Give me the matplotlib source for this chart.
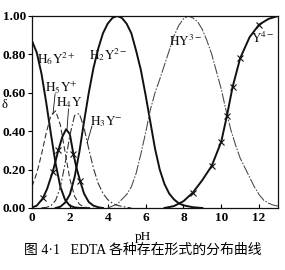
import matplotlib
matplotlib.use("Agg")
import matplotlib.pyplot as plt

plt.rcParams['mathtext.fontset'] = 'stix'
plt.rcParams['font.family'] = ['Liberation Serif', 'Noto Sans CJK SC', 'DejaVu Sans']

# ---------------- data ----------------
ph_acid = [0, 0.25, 0.5, 0.75, 1.0, 1.25, 1.5, 1.75, 2.0, 2.25, 2.5, 2.75, 3.0]
h6y = [0.87, 0.81, 0.70, 0.55, 0.385, 0.23, 0.11, 0.042, 0.012, 0.003, 0.0005, 0.0, 0.0]

ph_h5y = [0, 0.25, 0.5, 0.75, 1.0, 1.25, 1.5, 1.75, 2.0, 2.25, 2.5, 2.75, 3.0, 3.25]
h5y = [0.112, 0.181, 0.278, 0.390, 0.483, 0.506, 0.432, 0.290, 0.151, 0.061, 0.020, 0.005, 0.001, 0.0]

ph_h4y = [0, 0.25, 0.57, 0.8, 1.1, 1.39, 1.6, 1.8, 2.0, 2.19, 2.35, 2.54, 2.75, 3.0, 3.25, 3.5, 3.75]
h4y = [0.003, 0.012, 0.05, 0.10, 0.19, 0.30, 0.37, 0.41, 0.385, 0.28, 0.21, 0.142, 0.075, 0.031, 0.012, 0.004, 0.0]
h4y_marks = [2, 4, 5, 9, 11]

ph_h3y = [0.5, 0.75, 1.0, 1.25, 1.5, 1.75, 2.0, 2.25, 2.5, 2.75, 3.0, 3.25, 3.5, 3.75,
          4.0, 4.25, 4.5, 4.75, 5.0, 5.25]
h3y = [0.001, 0.003, 0.012, 0.040, 0.109, 0.231, 0.378, 0.482, 0.492, 0.418, 0.308, 0.206, 0.128, 0.076,
       0.044, 0.025, 0.014, 0.008, 0.004, 0.0]

ph_h2y = [1.25, 1.5, 1.75, 2.0, 2.25, 2.5, 2.75, 3.0, 3.25, 3.5, 3.75, 4.0, 4.25, 4.5, 4.75,
          5.0, 5.25, 5.5, 5.75, 6.0, 6.25, 6.5, 6.75, 7.0, 7.25, 7.5, 7.75, 8.0, 8.5, 9.0]
h2y = [0.0, 0.007, 0.028, 0.07, 0.16, 0.29, 0.45, 0.60, 0.73, 0.83, 0.91, 0.96, 0.99, 1.0, 0.99,
       0.96, 0.91, 0.82, 0.72, 0.59, 0.45, 0.31, 0.20, 0.125, 0.075, 0.045, 0.025, 0.014, 0.004, 0.0]

ph_hy = [4.0, 4.5, 5.0, 5.25, 5.5, 5.75, 6.0, 6.25, 6.5, 6.75, 7.0, 7.25, 7.5, 7.75, 8.0, 8.25,
         8.5, 8.75, 9.0, 9.25, 9.5, 9.75, 10.0, 10.25, 10.5, 10.75, 11.0, 11.25, 11.5, 11.75,
         12.0, 12.25, 12.5, 12.75, 13.0]
hy = [0.0, 0.02, 0.07, 0.11, 0.18, 0.28, 0.39, 0.51, 0.60, 0.67, 0.745, 0.82, 0.895, 0.95, 0.985, 1.0,
      0.99, 0.97, 0.93, 0.87, 0.80, 0.71, 0.62, 0.51, 0.41, 0.33, 0.26, 0.21, 0.16, 0.11,
      0.07, 0.04, 0.025, 0.015, 0.01]

ph_y = [7.0, 7.5, 8.0, 8.5, 9.0, 9.5, 10.0, 10.3, 10.6, 11.0, 11.5, 12.0, 12.5, 13.0]
y4 = [0.0, 0.01, 0.035, 0.08, 0.145, 0.22, 0.345, 0.48, 0.63, 0.78, 0.89, 0.955, 0.985, 1.0]
y4_marks = [3, 5, 6, 7, 8, 9, 11]

x_ticks = [0, 2, 4, 6, 8, 10, 12]
y_ticks = [0.0, 0.2, 0.4, 0.6, 0.8, 1.0]
y_ticklabels = ['0.00', '0.20', '0.40', '0.60', '0.80', '1.00']

# ---------------- figure ----------------
W, H = 285, 270
fig = plt.figure(figsize=(W / 100, H / 100), dpi=100)
ax = fig.add_axes([32 / W, 62 / H, 246 / W, 192 / H])
ax.set_xlim(0, 13)
ax.set_ylim(0, 1)

k = '#111111'
thick = 1.4
thin = 0.8
ax.plot(ph_acid, h6y, color=k, lw=thick)
ax.plot(ph_h5y, h5y, color='#333333', lw=thin, ls=(0, (5, 2.5)))
ax.plot(ph_h4y, h4y, color=k, lw=thick, marker='x', markevery=h4y_marks,
        markersize=4.5, markeredgewidth=0.8)
ax.plot(ph_h3y, h3y, color='#333333', lw=thin, ls=(0, (7, 2, 1.5, 2)))
ax.plot(ph_h2y, h2y, color=k, lw=thick)
ax.plot(ph_hy, hy, color='#444444', lw=0.75, ls=(0, (10, 1.5, 1.5, 1.5)))
ax.plot(ph_y, y4, color=k, lw=thick, marker='x', markevery=y4_marks,
        markersize=4.5, markeredgewidth=0.8)

ax.set_xticks(x_ticks)
ax.set_xticklabels([str(t) for t in x_ticks])
ax.set_yticks(y_ticks)
ax.set_yticklabels(y_ticklabels)
ax.tick_params(axis='x', direction='in', length=3, width=0.8, pad=3, labelsize=9.5)
ax.tick_params(axis='y', direction='out', length=3, width=0.8, pad=1.2, labelsize=9.5)
for lab in ax.get_xticklabels() + ax.get_yticklabels():
    lab.set_fontweight('bold')
for s in ax.spines.values():
    s.set_linewidth(0.9)
    s.set_color(k)

lab_kw = dict(fontsize=9.5, ha='center', va='center', color=k)
ax.text(1.3, 0.78, r'$\mathrm{H_6Y^{2+}}$', **lab_kw)
ax.text(4.05, 0.80, r'$\mathrm{H_2Y^{2-}}$', **lab_kw)
ax.text(8.14, 0.87, r'$\mathrm{HY^{3-}}$', **lab_kw)
ax.text(12.2, 0.885, r'$\mathrm{Y^{4-}}$', **lab_kw)
ax.text(1.55, 0.625, r'$\mathrm{H_5Y^{+}}$', **lab_kw)
ax.text(1.97, 0.55, r'$\mathrm{H_4Y}$', **lab_kw)
ax.text(3.9, 0.448, r'$\mathrm{H_3Y^{-}}$', **lab_kw)
ax.plot([1.22, 1.11], [0.594, 0.49], color=k, lw=0.6)
ax.plot([1.93, 1.85], [0.516, 0.41], color=k, lw=0.6)
ax.plot([3.17, 2.91], [0.427, 0.339], color=k, lw=0.6)

fig.text(143 / W, 1 - 237 / H, 'pH', ha='center', va='center', fontsize=9.5)
fig.text(5 / W, 1 - 105 / H, 'δ', ha='center', va='center', fontsize=9)
fig.text(0.5, 1 - 250 / H, '图 4·1   EDTA 各种存在形式的分布曲线',
         ha='center', va='center', fontsize=10)

fig.savefig('out.png', dpi=100)
